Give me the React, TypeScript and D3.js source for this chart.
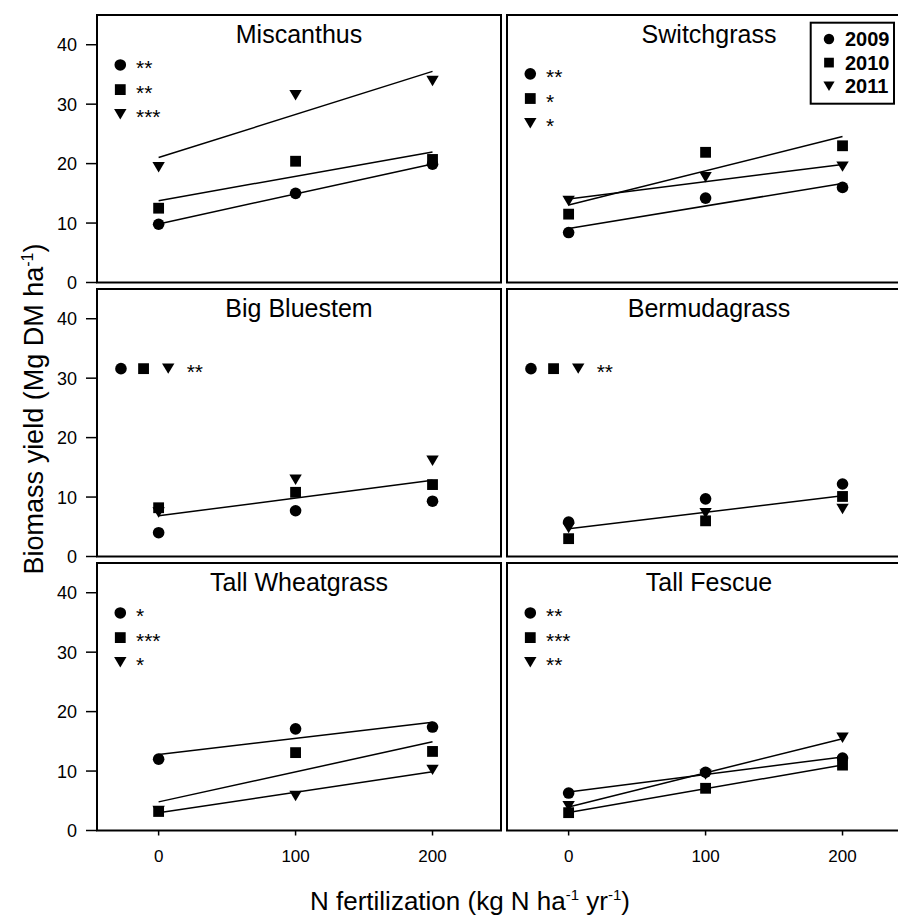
import React, { useEffect, useRef } from 'react';
import * as d3 from 'd3';

const nRates = [0, 100, 200];
const years = ['2009', '2010', '2011'];
const species = ['Miscanthus', 'Switchgrass', 'Big Bluestem', 'Bermudagrass', 'Tall Wheatgrass', 'Tall Fescue'];

// biomass yield (Mg DM/ha) at 0, 100, 200 kg N, one row per species
const yield2009 = [
  [9.8, 15.0, 19.9],
  [8.4, 14.2, 16.0],
  [4.0, 7.7, 9.3],
  [5.8, 9.7, 12.2],
  [12.0, 17.1, 17.4],
  [6.3, 9.8, 12.2],
];
const yield2010 = [
  [12.5, 20.4, 20.7],
  [11.5, 21.9, 23.0],
  [8.2, 10.8, 12.1],
  [3.0, 6.0, 10.1],
  [3.2, 13.1, 13.3],
  [3.0, 7.1, 11.0],
];
const yield2011 = [
  [19.4, 31.5, 33.9],
  [13.7, 17.7, 19.5],
  [7.4, 12.9, 16.1],
  [4.8, 7.3, 8.0],
  [3.3, 5.8, 10.2],
  [4.1, 9.4, 15.6],
];
// one entry = pooled regression over years
const signif = [
  ['**', '**', '***'],
  ['**', '*', '*'],
  ['**'],
  ['**'],
  ['*', '***', '*'],
  ['**', '***', '**'],
];
const yTicks = [0, 10, 20, 30, 40];
const xTicks = [0, 100, 200];

const font = 'Arial, "Liberation Sans", sans-serif';
const W = 898;
const H = 918;
const colX = [97, 507];
const rowY = [15, 289, 563];
const panelW = 404;
const panelH = 267.5;
const shapes = ['circle', 'square', 'triangle'];

// least squares line, returns [intercept, slope]
const fitLine = (xs: number[], ys: number[]) => {
  const mx = d3.mean(xs) as number;
  const my = d3.mean(ys) as number;
  const b = d3.sum(xs, (x, i) => (x - mx) * (ys[i] - my)) / d3.sum(xs, x => (x - mx) ** 2);
  return [my - b * mx, b];
};

const drawSymbol = (g: any, shape: string, x: number, y: number, s = 1) => {
  if (shape === 'circle') {
    g.append('circle').attr('cx', x).attr('cy', y).attr('r', 5.8 * s).attr('fill', '#000');
  } else if (shape === 'square') {
    const h = 5.4 * s;
    g.append('rect').attr('x', x - h).attr('y', y - h).attr('width', 2 * h).attr('height', 2 * h).attr('fill', '#000');
  } else {
    const w = 6.2 * s, h = 5.2 * s;
    g.append('path')
      .attr('d', `M${x - w},${y - h}L${x + w},${y - h}L${x},${y + h}Z`)
      .attr('fill', '#000');
  }
};

const App = () => {
  const svgRef = useRef<SVGSVGElement>(null);

  useEffect(() => {
    if (!svgRef.current) return;
    const svg = d3.select(svgRef.current);
    svg.selectAll('*').remove();

    const allYields = [yield2009, yield2010, yield2011];

    species.forEach((name, p) => {
      const col = p % 2;
      const row = Math.floor(p / 2);
      const x0 = colX[col];
      const y0 = rowY[row];
      const x = d3.scaleLinear().domain([-45, 250]).range([x0, x0 + panelW]);
      const y = d3.scaleLinear().domain([0, 45]).range([y0 + panelH, y0]);
      const g = svg.append('g');

      // frame
      g.append('rect')
        .attr('x', x0).attr('y', y0)
        .attr('width', panelW).attr('height', panelH)
        .attr('fill', 'none').attr('stroke', '#000').attr('stroke-width', 2);

      // title
      g.append('text')
        .attr('x', x0 + panelW / 2).attr('y', y0 + 27.5)
        .attr('text-anchor', 'middle')
        .style('font-family', font).style('font-size', '25px')
        .text(name);

      // y axis on left column
      if (col === 0) {
        yTicks.forEach(t => {
          g.append('line')
            .attr('x1', x0 - 11).attr('x2', x0)
            .attr('y1', y(t)).attr('y2', y(t))
            .attr('stroke', '#000').attr('stroke-width', 1.5);
          g.append('text')
            .attr('x', x0 - 20).attr('y', y(t)).attr('dy', '0.36em')
            .attr('text-anchor', 'end')
            .style('font-family', font).style('font-size', '18px')
            .text(t);
        });
      }

      // x axis on bottom row
      if (row === 2) {
        xTicks.forEach(t => {
          g.append('line')
            .attr('x1', x(t)).attr('x2', x(t))
            .attr('y1', y0 + panelH).attr('y2', y0 + panelH + 5)
            .attr('stroke', '#000').attr('stroke-width', 1.5);
          g.append('text')
            .attr('x', x(t)).attr('y', y0 + panelH + 31)
            .attr('text-anchor', 'middle')
            .style('font-family', font).style('font-size', '17px')
            .text(t);
        });
      }

      // regression lines
      const pooled = signif[p].length === 1;
      const fits = pooled
        ? [fitLine([...nRates, ...nRates, ...nRates], allYields.flatMap(a => a[p]))]
        : allYields.map(a => fitLine(nRates, a[p]));
      fits.forEach(([a, b]) => {
        g.append('line')
          .attr('x1', x(0)).attr('y1', y(a))
          .attr('x2', x(200)).attr('y2', y(a + b * 200))
          .attr('stroke', '#000').attr('stroke-width', 1.5);
      });

      // points, 2011 first so 2009 sits on top
      [2, 1, 0].forEach(k => {
        allYields[k][p].forEach((v, i) => drawSymbol(g, shapes[k], x(nRates[i]), y(v)));
      });

      // significance keys
      const starText = (tx: number, ty: number, s: string) =>
        g.append('text')
          .attr('x', tx).attr('y', ty + 10)
          .style('font-family', font).style('font-size', '21px')
          .text(s);
      if (pooled) {
        [-27.5, -11, 7].forEach((sx, k) => drawSymbol(g, shapes[k], x(sx), y(31.6)));
        starText(x(20.5), y(31.6), signif[p][0]);
      } else {
        const top = p === 1 ? 35.1 : 36.6;
        signif[p].forEach((s, k) => {
          const yy = y(top - k * 4.15);
          drawSymbol(g, shapes[k], x(-28), yy);
          starText(x(-16.5), yy, s);
        });
      }

      // year legend in Switchgrass panel
      if (p === 1) {
        const lg = g.append('g').attr('transform', `translate(${x0 + 303.7},${y0 + 7.7})`);
        lg.append('rect')
          .attr('width', 83.3).attr('height', 81)
          .attr('fill', '#fff').attr('stroke', '#000').attr('stroke-width', 2);
        years.forEach((yr, k) => {
          const cy = 16.3 + k * 23.6;
          drawSymbol(lg, shapes[k], 18.3, cy, 0.9);
          lg.append('text')
            .attr('x', 34.3).attr('y', cy).attr('dy', '0.36em')
            .style('font-family', font).style('font-size', '20px').style('font-weight', 'bold')
            .text(yr);
        });
      }
    });

    // axis titles
    const yt = svg.append('text')
      .attr('transform', 'translate(43,409) rotate(-90)')
      .attr('text-anchor', 'middle')
      .style('font-family', font).style('font-size', '27px');
    yt.append('tspan').text('Biomass yield (Mg DM ha');
    yt.append('tspan').attr('dy', -10).style('font-size', '16px').text('-1');
    yt.append('tspan').attr('dy', 10).text(')');

    const xt = svg.append('text')
      .attr('x', 470).attr('y', 910)
      .attr('text-anchor', 'middle')
      .style('font-family', font).style('font-size', '26px');
    xt.append('tspan').text('N fertilization (kg N ha');
    xt.append('tspan').attr('dy', -10).style('font-size', '15px').text('-1');
    xt.append('tspan').attr('dy', 10).text(' yr');
    xt.append('tspan').attr('dy', -10).style('font-size', '15px').text('-1');
    xt.append('tspan').attr('dy', 10).text(')');
  }, []);

  return (
    <svg
      ref={svgRef}
      width={W}
      height={H}
      style={{ position: 'absolute', left: 0, top: 0, background: '#fff' }}
    />
  );
};

export default App;
